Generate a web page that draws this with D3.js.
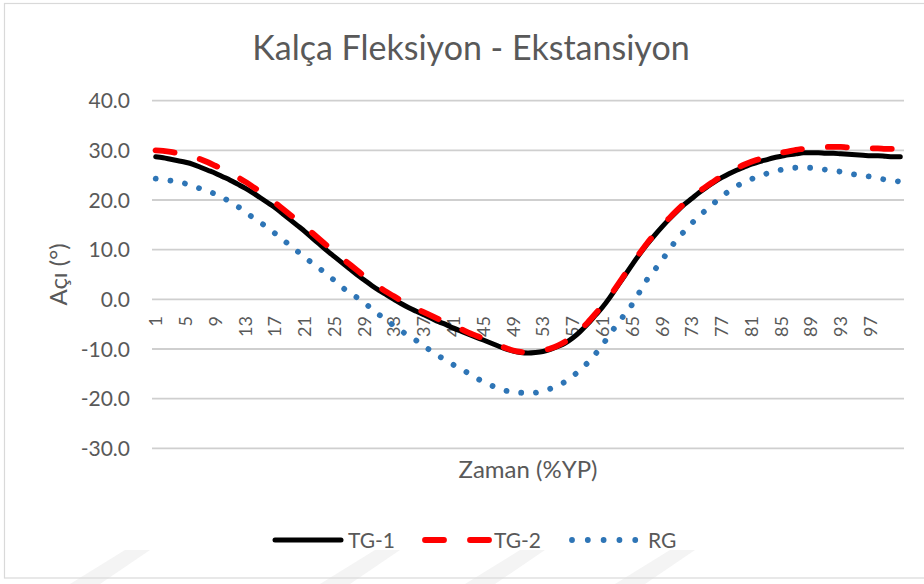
<!DOCTYPE html>
<html><head><meta charset="utf-8">
<script src="https://cdn.jsdelivr.net/npm/d3@7"></script>
<style>
body{margin:0;background:#fff;}
svg{display:block;font-family:Lato,"Open Sans",sans-serif;}
</style>
</head><body>
<svg id="c" width="924" height="584"></svg>
<script>
const categories = [1,2,3,4,5,6,7,8,9,10,11,12,13,14,15,16,17,18,19,20,21,22,23,24,25,26,27,28,29,30,31,32,33,34,35,36,37,38,39,40,41,42,43,44,45,46,47,48,49,50,51,52,53,54,55,56,57,58,59,60,61,62,63,64,65,66,67,68,69,70,71,72,73,74,75,76,77,78,79,80,81,82,83,84,85,86,87,88,89,90,91,92,93,94,95,96,97,98,99,100,101];
const tg1 = [28.7,28.5,28.2,27.9,27.6,27.2,26.6,26.0,25.4,24.7,24.0,23.2,22.4,21.5,20.5,19.5,18.5,17.3,16.1,14.9,13.7,12.4,11.1,9.8,8.6,7.4,6.2,5.0,3.9,2.8,1.8,0.9,0.0,-0.9,-1.7,-2.4,-3.1,-3.8,-4.5,-5.1,-5.8,-6.4,-7.0,-7.6,-8.2,-8.8,-9.4,-10.0,-10.4,-10.7,-10.8,-10.7,-10.5,-10.1,-9.5,-8.8,-7.8,-6.5,-5.0,-3.3,-1.6,0.4,2.6,4.8,7.0,9.1,11.1,12.9,14.6,16.2,17.7,19.1,20.3,21.5,22.6,23.6,24.5,25.3,26.0,26.6,27.2,27.7,28.1,28.5,28.8,29.1,29.3,29.5,29.5,29.5,29.4,29.4,29.3,29.2,29.1,29.0,28.9,28.9,28.8,28.7,28.7];
const tg2 = [30.0,29.9,29.7,29.4,29.1,28.7,28.2,27.6,26.9,26.2,25.4,24.6,23.7,22.7,21.7,20.6,19.5,18.3,17.1,15.9,14.7,13.4,12.1,10.8,9.5,8.3,7.1,5.9,4.7,3.6,2.5,1.5,0.6,-0.3,-1.1,-1.9,-2.6,-3.3,-4.0,-4.7,-5.4,-6.0,-6.7,-7.3,-7.9,-8.6,-9.2,-9.8,-10.3,-10.6,-10.7,-10.6,-10.3,-9.9,-9.3,-8.5,-7.5,-6.2,-4.7,-3.0,-1.2,0.7,2.8,5.0,7.2,9.3,11.3,13.1,14.8,16.4,17.9,19.3,20.5,21.7,22.8,23.8,24.8,25.6,26.4,27.1,27.7,28.2,28.7,29.1,29.5,29.8,30.1,30.3,30.5,30.6,30.7,30.7,30.7,30.6,30.6,30.5,30.4,30.4,30.3,30.3,30.2];
const rg = [24.3,24.1,23.9,23.6,23.3,22.8,22.3,21.8,21.2,20.5,19.6,18.7,17.7,16.5,15.5,14.5,13.3,12.1,10.9,9.7,8.5,7.3,6.2,5.0,3.8,2.5,1.3,0.4,-0.7,-1.9,-3.1,-4.2,-5.3,-6.4,-7.3,-8.3,-9.4,-10.4,-11.4,-12.3,-13.2,-14.0,-14.9,-15.8,-16.6,-17.3,-17.9,-18.4,-18.7,-18.8,-18.9,-18.8,-18.5,-18.0,-17.3,-16.6,-15.5,-14.2,-12.8,-11.1,-9.2,-7.0,-5.0,-3.0,-1.0,1.5,4.0,5.9,7.9,10.0,12.1,13.7,15.3,16.8,18.1,19.4,20.7,21.8,22.8,23.5,24.2,24.8,25.3,25.7,26.1,26.3,26.5,26.5,26.5,26.3,26.1,25.9,25.7,25.4,25.1,24.9,24.7,24.4,24.1,23.9,23.7];
const yTicks = [-30,-20,-10,0,10,20,30,40];
const xTickLabels = [1,5,9,13,17,21,25,29,33,37,41,45,49,53,57,61,65,69,73,77,81,85,89,93,97];
const seriesNames = ["TG-1","TG-2","RG"];
const seriesColors = ["#000000","#ff0000","#2e75b6"];
const titleText = "Kalça Fleksiyon - Ekstansiyon";
const yTitle = "Açı (°)";
const xTitle = "Zaman (%YP)";

const svg = d3.select("#c");
const textColor = "#595959";

// watermark (faint)
const wm = svg.append("g").attr("fill","#f4f4f4");
[95,345,490,640].forEach(c=>{
  wm.append("path").attr("d",`M${c+30},550 L${c+55},550 L${c+5},584 L${c-25},584 Z`);
});

// frame
svg.append("rect").attr("x",4.5).attr("y",3.5).attr("width",960).attr("height",574.5)
  .attr("fill","none").attr("stroke","#d9d9d9").attr("stroke-width",1.2);

const x = d3.scaleBand().domain(categories).range([152,904]).padding(0);
const cx = d => x(d) + x.bandwidth()/2;
const y = d3.scaleLinear().domain([-30,40]).range([448.3,100.7]);

// gridlines
svg.append("g").selectAll("line").data(yTicks).join("line")
  .attr("x1",152).attr("x2",904)
  .attr("y1",d=>y(d)).attr("y2",d=>y(d))
  .attr("stroke","#cfcfcf").attr("stroke-width",1.8);

// y tick labels (ASCII hyphen minus, as in the reference)
const fmt = d => d3.format(".1f")(d).replace("\u2212","-");
svg.append("g").selectAll("text").data(yTicks).join("text")
  .attr("x",130).attr("y",d=>y(d)).attr("dy","0.36em")
  .attr("text-anchor","end").attr("fill",textColor)
  .style("font-size","21px")
  .text(fmt);

// x tick labels (rotated)
svg.append("g").selectAll("text").data(xTickLabels).join("text")
  .attr("transform",d=>`translate(${cx(d)},316) rotate(-90)`)
  .attr("dy","0.36em")
  .attr("text-anchor","end").attr("fill",textColor)
  .style("font-size","18px")
  .text(d=>d);

// lines
const line = vals => d3.line()
  .x((d,i)=>cx(categories[i]))
  .y(d=>y(d))
  .curve(d3.curveMonotoneX)(vals);

svg.append("path").attr("d",line(rg)).attr("fill","none")
  .attr("stroke",seriesColors[2]).attr("stroke-width",5.8)
  .attr("stroke-linecap","round").attr("stroke-dasharray","0.01,14.8");
svg.append("path").attr("d",line(tg1)).attr("fill","none")
  .attr("stroke",seriesColors[0]).attr("stroke-width",5)
  .attr("stroke-linecap","round").attr("stroke-linejoin","round");
svg.append("path").attr("d",line(tg2)).attr("fill","none")
  .attr("stroke",seriesColors[1]).attr("stroke-width",5.8)
  .attr("stroke-linecap","round").attr("stroke-dasharray","19,26");

// titles
svg.append("text").attr("x",471).attr("y",60).attr("text-anchor","middle")
  .attr("fill",textColor).style("font-size","34px").text(titleText);
svg.append("text").attr("transform","translate(58,274.5) rotate(-90)")
  .attr("dy","0.36em").attr("text-anchor","middle")
  .attr("fill",textColor).style("font-size","24px").text(yTitle);
svg.append("text").attr("x",528).attr("y",478).attr("text-anchor","middle")
  .attr("fill",textColor).style("font-size","24px").text(xTitle);

// legend
const lg = svg.append("g");
const ly = 540;
lg.append("line").attr("x1",275).attr("x2",341).attr("y1",ly).attr("y2",ly)
  .attr("stroke",seriesColors[0]).attr("stroke-width",5).attr("stroke-linecap","round");
lg.append("line").attr("x1",425).attr("x2",489).attr("y1",ly).attr("y2",ly)
  .attr("stroke",seriesColors[1]).attr("stroke-width",5.8).attr("stroke-linecap","round")
  .attr("stroke-dasharray","19,26");
lg.append("line").attr("x1",572).attr("x2",636).attr("y1",ly).attr("y2",ly)
  .attr("stroke",seriesColors[2]).attr("stroke-width",5.8).attr("stroke-linecap","round")
  .attr("stroke-dasharray","0.01,15.8");
[[348,0],[494,1],[648,2]].forEach(([lx,i])=>{
  lg.append("text").attr("x",lx).attr("y",ly).attr("dy","0.36em")
    .attr("fill",textColor).style("font-size","21px").text(seriesNames[i]);
});
</script>
</body></html>
